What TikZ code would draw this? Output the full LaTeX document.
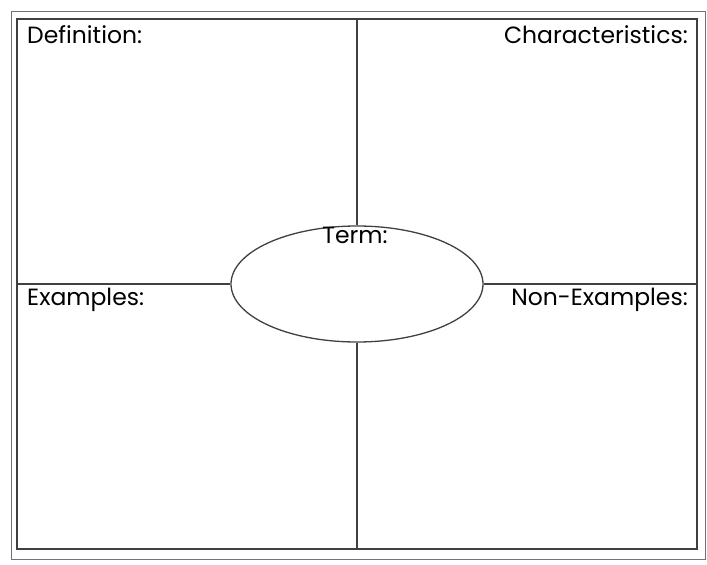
\documentclass[tikz,border=0pt]{standalone}
\usepackage{fontspec}
\setmainfont{Poppins}
\usetikzlibrary{shapes.geometric}
\begin{document}
\begin{tikzpicture}[x=1pt,y=-1pt,
  ln/.style={draw=black!75,line width=1.3pt},
  lbl/.style={font=\fontsize{23.5}{28}\selectfont,inner sep=0pt}]
\useasboundingbox (0,0) rectangle (707,565);
\draw[draw=black!55,line width=0.8pt] (11,11) rectangle (705,559);
\draw[ln] (17,19) rectangle (697,549);
\node[ellipse,draw=black!75,line width=1.3pt,minimum width=252pt,minimum height=116pt] (t) at (357,284) {};
\coordinate (top) at (357,19);
\coordinate (bot) at (357,549);
\coordinate (lft) at (17,284);
\coordinate (rgt) at (697,284);
\draw[ln] (top) -- (t.north);
\draw[ln] (t.south) -- (bot);
\draw[ln] (lft) -- (t.west);
\draw[ln] (t.east) -- (rgt);
\node[lbl,anchor=north west] (d) at (27,25) {Definition:};
\node[lbl,anchor=north east] (c) at (688,25) {Characteristics:};
\node[lbl,anchor=north west] (e) at (27,288) {Examples:};
\node[lbl,anchor=north east] (n) at (688,288) {Non-Examples:};
\node[lbl,anchor=north] (tm) at (355,227) {Term:};
\end{tikzpicture}
\end{document}
